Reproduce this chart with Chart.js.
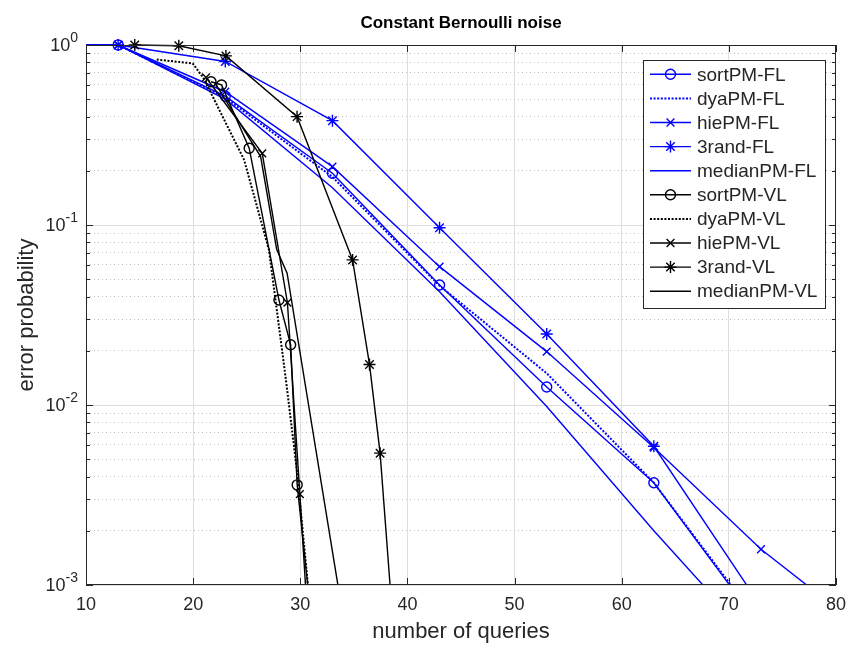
<!DOCTYPE html>
<html>
<head>
<meta charset="utf-8">
<script src="https://cdn.jsdelivr.net/npm/chart.js@4.4.0/dist/chart.umd.min.js"></script>
<style>
  html, body { margin: 0; padding: 0; background: #fff; }
  #wrap { width: 855px; height: 646px; }
</style>
</head>
<body>
<div id="wrap"><canvas id="chart" width="855" height="646"></canvas></div>
<script>
// fixed-length runs share the same query counts
const flQueries  = [3, 13, 23, 33, 43, 53, 63, 73, 83];
const sortPmFl   = [1, 1, 0.52, 0.194, 0.0464, 0.0126, 0.0037, 0.00058];
const dyaPmFl    = [1, 1, 0.51, 0.185, 0.046, 0.015, 0.0037, 0.0006];
const hiePmFl    = [1, 1, 0.55, 0.211, 0.0587, 0.0198, 0.0058, 0.00158, 0.00054];
const rand3Fl    = [1, 1, 0.81, 0.38, 0.0966, 0.0248, 0.0059, 0.00076];
const medianPmFl = [1, 1, 0.50, 0.161, 0.0426, 0.0098, 0.0020, 0.00044];

// variable-length runs: average queries differ per point
const sortPmVlQ   = [21.67, 22.65, 25.23, 28.01, 29.1, 29.71, 31.2];
const sortPmVl    = [0.625, 0.6, 0.267, 0.0383, 0.0216, 0.0036, 0.00052];
const dyaPmVlQ    = [16.6, 19.96, 20.96, 24.76, 27.08, 28.66, 29.68, 31.2];
const dyaPmVl     = [0.83, 0.79, 0.656, 0.23, 0.0726, 0.0138, 0.00435, 0.0005];
const hiePmVlQ    = [21.2, 26.45, 28.8, 29.96, 30.8];
const hiePmVl     = [0.66, 0.25, 0.037, 0.0032, 0.0005];
const rand3VlQ    = [14.55, 18.66, 23.06, 29.7, 34.88, 36.46, 37.45, 38.6];
const rand3Vl     = [1.0, 0.99, 0.87, 0.40, 0.064, 0.0168, 0.0054, 0.00067];
const medianPmVlQ = [22.0, 26.3, 27.8, 28.77, 34.6];
const medianPmVl  = [0.62, 0.24, 0.073, 0.054, 0.0004];

const xTickValues = [10, 20, 30, 40, 50, 60, 70, 80];
const yDecades = [1e-3, 1e-2, 1e-1, 1];

const BLUE = '#0000ff';
const BLACK = '#000000';
const FONT = '"Liberation Sans", Arial, sans-serif';
const AXIS_COLOR = '#262626';

const pairs = (xs, ys) => ys.map((y, i) => ({x: xs[i], y: y}));

function series(label, xs, ys, color, marker, dotted) {
    return {
        label: label,
        data: pairs(xs, ys),
        borderColor: color,
        backgroundColor: 'rgba(0,0,0,0)',
        borderWidth: dotted ? 2 : 1.4,
        borderDash: dotted ? [2, 1.6] : [],
        pointStyle: marker || 'circle',
        pointRadius: marker ? (marker === 'star' ? 6 : marker === 'crossRot' ? 5.5 : 5) : 0,
        pointBorderColor: color,
        pointBackgroundColor: 'rgba(0,0,0,0)',
        pointBorderWidth: 1.4,
        tension: 0,
        clip: {left: 0, top: 8, right: 0, bottom: 0}
    };
}

const datasets = [
    series('sortPM-FL', flQueries, sortPmFl, BLUE, 'circle', false),
    series('dyaPM-FL', flQueries, dyaPmFl, BLUE, null, true),
    series('hiePM-FL', flQueries, hiePmFl, BLUE, 'crossRot', false),
    series('3rand-FL', flQueries, rand3Fl, BLUE, 'star', false),
    series('medianPM-FL', flQueries, medianPmFl, BLUE, null, false),
    series('sortPM-VL', sortPmVlQ, sortPmVl, BLACK, 'circle', false),
    series('dyaPM-VL', dyaPmVlQ, dyaPmVl, BLACK, null, true),
    series('hiePM-VL', hiePmVlQ, hiePmVl, BLACK, 'crossRot', false),
    series('3rand-VL', rand3VlQ, rand3Vl, BLACK, 'star', false),
    series('medianPM-VL', medianPmVlQ, medianPmVl, BLACK, null, false)
];
// later series sit on top, like plot() with hold on
datasets.forEach((d, i) => { d.order = datasets.length - i; });

// box, inward ticks, y labels with exponents, and the legend
const axesDecor = {
    id: 'axesDecor',
    afterDatasetsDraw(chart) {
        const {ctx, chartArea: a, scales: {x, y}} = chart;
        ctx.save();
        ctx.strokeStyle = AXIS_COLOR;
        ctx.lineWidth = 1;
        ctx.beginPath();
        x.ticks.forEach(t => {
            const px = Math.round(x.getPixelForValue(t.value)) + 0.5;
            ctx.moveTo(px, a.bottom); ctx.lineTo(px, a.bottom - 7);
            ctx.moveTo(px, a.top); ctx.lineTo(px, a.top + 7);
        });
        y.ticks.forEach(t => {
            const py = Math.round(y.getPixelForValue(t.value)) + 0.5;
            const len = t.major ? 7 : 4;
            ctx.moveTo(a.left, py); ctx.lineTo(a.left + len, py);
            ctx.moveTo(a.right, py); ctx.lineTo(a.right - len, py);
        });
        ctx.stroke();
        ctx.strokeRect(Math.round(a.left) + 0.5, Math.round(a.top) + 0.5,
            Math.round(a.width) - 1, Math.round(a.height) - 1);

        // y tick labels as 10^n
        ctx.fillStyle = AXIS_COLOR;
        ctx.textBaseline = 'middle';
        ctx.textAlign = 'left';
        y.ticks.filter(t => t.major).forEach(t => {
            const py = y.getPixelForValue(t.value);
            const exp = String(Math.round(Math.log10(t.value)));
            ctx.font = '14px ' + FONT;
            const ew = ctx.measureText(exp).width;
            ctx.font = '18px ' + FONT;
            const bw = ctx.measureText('10').width;
            const right = a.left - 8;
            ctx.fillText('10', right - ew - bw, py + 1);
            ctx.font = '14px ' + FONT;
            ctx.fillText(exp, right - ew, py - 7);
        });
        ctx.restore();
    },
    afterDraw(chart) {
        const {ctx, chartArea: a} = chart;
        const boxW = 182, rowH = 24.1;
        const sets = chart.data.datasets;
        const boxH = rowH * sets.length + 7;
        const bx = a.right - 11 - boxW, by = a.top + 15;
        ctx.save();
        ctx.fillStyle = '#fff';
        ctx.fillRect(bx, by, boxW, boxH);
        ctx.strokeStyle = AXIS_COLOR;
        ctx.lineWidth = 1;
        ctx.strokeRect(Math.round(bx) + 0.5, Math.round(by) + 0.5, boxW, Math.round(boxH));
        ctx.font = '19px ' + FONT;
        ctx.textBaseline = 'middle';
        ctx.textAlign = 'left';
        sets.forEach((d, i) => {
            const cy = by + 14.3 + i * rowH;
            ctx.strokeStyle = d.borderColor;
            ctx.lineWidth = d.borderWidth;
            ctx.setLineDash(d.borderDash);
            ctx.beginPath();
            ctx.moveTo(bx + 7, cy); ctx.lineTo(bx + 48, cy);
            ctx.stroke();
            ctx.setLineDash([]);
            if (d.pointRadius > 0) {
                ctx.fillStyle = 'rgba(0,0,0,0)';
                ctx.lineWidth = d.pointBorderWidth;
                Chart.helpers.drawPoint(ctx, {
                    pointStyle: d.pointStyle, radius: d.pointRadius,
                    rotation: 0, borderWidth: d.pointBorderWidth
                }, bx + 27.5, cy);
            }
            ctx.fillStyle = AXIS_COLOR;
            ctx.fillText(d.label, bx + 54, cy + 1);
        });
        ctx.restore();
    }
};

new Chart(document.getElementById('chart'), {
    type: 'line',
    data: {datasets: datasets},
    options: {
        responsive: false,
        animation: false,
        events: [],
        layout: {padding: {left: 0, right: 15, top: 0, bottom: 0}},
        plugins: {
            legend: {display: false},
            tooltip: {enabled: false},
            title: {
                display: true,
                text: 'Constant Bernoulli noise',
                color: '#000',
                fullSize: false,
                font: {family: FONT, size: 17, weight: 'bold'},
                padding: {top: 13, bottom: 11.6}
            }
        },
        scales: {
            x: {
                type: 'linear',
                min: 10,
                max: 80,
                afterBuildTicks: s => { s.ticks = xTickValues.map(v => ({value: v})); },
                afterFit: s => { s.height = 61; },
                ticks: {
                    color: AXIS_COLOR,
                    font: {family: FONT, size: 18},
                    padding: 9,
                    maxRotation: 0,
                    autoSkip: false
                },
                grid: {color: '#dedede', lineWidth: 1, drawTicks: false},
                border: {display: false},
                title: {
                    display: true,
                    text: 'number of queries',
                    color: AXIS_COLOR,
                    font: {family: FONT, size: 22},
                    padding: {top: 0, bottom: 1}
                }
            },
            y: {
                type: 'logarithmic',
                min: yDecades[0],
                max: yDecades[yDecades.length - 1],
                afterBuildTicks: s => {
                    const ticks = [];
                    yDecades.forEach((d, i) => {
                        ticks.push({value: d, major: true});
                        if (i < yDecades.length - 1) {
                            for (let m = 2; m <= 9; m++) ticks.push({value: d * m, major: false});
                        }
                    });
                    s.ticks = ticks;
                },
                afterFit: s => { s.width = 86; },
                ticks: {display: false},
                grid: {
                    color: c => (c.tick && c.tick.major) ? '#dedede' : '#c2c2c2',
                    lineWidth: 1,
                    drawTicks: false
                },
                border: {
                    display: false,
                    dash: c => (c.tick && !c.tick.major) ? [1, 3] : []
                },
                title: {
                    display: true,
                    text: 'error probability',
                    color: AXIS_COLOR,
                    font: {family: FONT, size: 22},
                    padding: {top: 14, bottom: 0}
                }
            }
        }
    },
    plugins: [axesDecor]
});
</script>
</body>
</html>
